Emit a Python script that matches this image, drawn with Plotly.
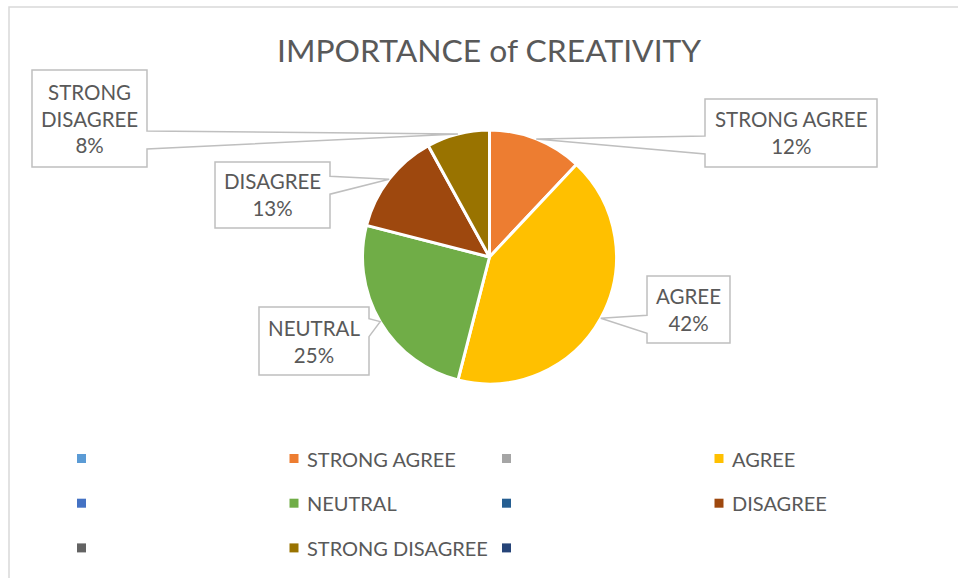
import math
import plotly.graph_objects as go

# ---------------- data ----------------
categories = ["", "STRONG AGREE", "", "AGREE", "", "NEUTRAL", "", "DISAGREE", "", "STRONG DISAGREE", ""]
values = [0, 12, 0, 42, 0, 25, 0, 13, 0, 8, 0]
colors = ["#5B9BD5", "#ED7D31", "#A5A5A5", "#FFC000", "#4472C4", "#70AD47",
          "#255E91", "#9E480E", "#636363", "#997300", "#264478"]
title_text = "IMPORTANCE of CREATIVITY"

# ---------------- layout constants (pixels) ----------------
W, H = 958, 578
CX, CY, R = 489.5, 257.0, 127.0
TEXT_COLOR = "#595959"
FONT = "Lato"
# callout boxes (x0, y0, x1, y1, side of pointer)
boxes = {
    "STRONG AGREE": (705, 99, 877, 167, "left"),
    "AGREE": (647, 276, 730, 343, "left"),
    "NEUTRAL": (259, 307, 369, 375, "right"),
    "DISAGREE": (215, 162, 330, 228, "right"),
    "STRONG DISAGREE": (32, 70, 147, 167, "right"),
}
wrap = {"STRONG DISAGREE": "STRONG<br>DISAGREE"}


def px(x):
    return x / W


def py(y):
    return 1 - y / H


# pie uses the non-empty categories
pie_labels = [c for c, v in zip(categories, values) if v > 0]
pie_values = [v for v in values if v > 0]
pie_colors = [col for col, v in zip(colors, values) if v > 0]
total = sum(pie_values)

fig = go.Figure()
fig.add_trace(go.Pie(
    labels=pie_labels,
    values=pie_values,
    marker=dict(colors=pie_colors, line=dict(color="white", width=3)),
    sort=False,
    direction="clockwise",
    rotation=0,
    textinfo="none",
    hoverinfo="label+percent",
    showlegend=False,
    domain=dict(x=[px(CX - R), px(CX + R)], y=[py(CY + R), py(CY - R)]),
))

shapes = []
annotations = []

# chart border
shapes.append(dict(type="rect", xref="paper", yref="paper",
                   x0=px(9), y0=py(7), x1=px(W + 20), y1=py(H + 20),
                   line=dict(color="#D9D9D9", width=1.5), fillcolor="rgba(0,0,0,0)", layer="below"))

# title
annotations.append(dict(text=title_text, xref="paper", yref="paper", x=px(489), y=py(50),
                        xanchor="center", yanchor="middle", showarrow=False,
                        font=dict(family=FONT, size=31.8, color=TEXT_COLOR)))

# callout labels, tip at slice mid-angle on the rim
cum = 0.0
for lab, v in zip(pie_labels, pie_values):
    mid = (cum + v / 2) / total * 2 * math.pi
    cum += v
    tx = CX + R * math.sin(mid)
    ty = CY - R * math.cos(mid)
    x0, y0, x1, y1, side = boxes[lab]
    c = min(max(ty + 6, y0 + 10), y1 - 10)
    b0, b1 = c - 9, c + 9
    if side == "left":
        pts = [(x0, y0), (x1, y0), (x1, y1), (x0, y1), (x0, b1), (tx, ty), (x0, b0)]
    else:
        pts = [(x0, y0), (x1, y0), (x1, b0), (tx, ty), (x1, b1), (x1, y1), (x0, y1)]
    path = "M " + " L ".join(f"{px(a):.5f},{py(b):.5f}" for a, b in pts) + " Z"
    shapes.append(dict(type="path", xref="paper", yref="paper", path=path,
                       line=dict(color="#BFBFBF", width=1.5), fillcolor="white", layer="above"))
    pct = f"{v / total:.0%}"
    annotations.append(dict(text=f"{wrap.get(lab, lab)}<br>{pct}", xref="paper", yref="paper",
                            x=px((x0 + x1) / 2), y=py((y0 + y1) / 2),
                            xanchor="center", yanchor="middle", align="center", showarrow=False,
                            font=dict(family=FONT, size=20.5, color=TEXT_COLOR)))

# legend (4 columns grid, as in the reference)
LX0, LY0, LDX, LDY, SQ = 81.5, 458.5, 212.5, 44.7, 9
for i, (name, col) in enumerate(zip(categories, colors)):
    cx = LX0 + (i % 4) * LDX
    cy = LY0 + (i // 4) * LDY
    shapes.append(dict(type="rect", xref="paper", yref="paper",
                       x0=px(cx - SQ / 2), x1=px(cx + SQ / 2), y0=py(cy + SQ / 2), y1=py(cy - SQ / 2),
                       line=dict(width=0), fillcolor=col))
    if name:
        annotations.append(dict(text=name, xref="paper", yref="paper", x=px(cx + 11), y=py(cy),
                                xanchor="left", yanchor="middle", showarrow=False,
                                font=dict(family=FONT, size=20, color=TEXT_COLOR)))

fig.update_layout(
    width=W, height=H,
    margin=dict(l=0, r=0, t=0, b=0),
    paper_bgcolor="white", plot_bgcolor="white",
    shapes=shapes, annotations=annotations,
    showlegend=False,
)
fig.write_html("out.html")
